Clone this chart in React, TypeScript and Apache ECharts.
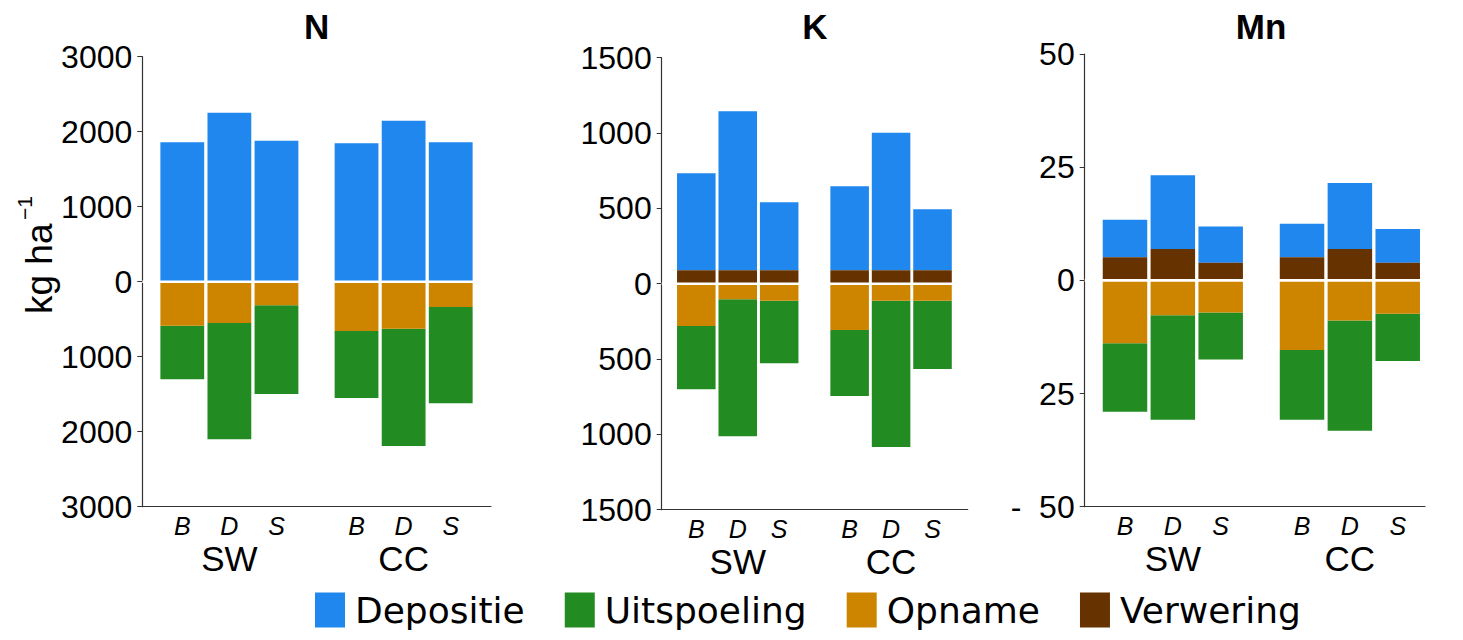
import React, { useEffect, useRef } from 'react';
import * as echarts from 'echarts';

const panelTitles = ['N', 'K', 'Mn'];
const groups = ['SW', 'CC'];
const treatments = ['B', 'D', 'S'];
const xPositions = [1, 2, 3, 4.7, 5.7, 6.7];
const groupCenters = [2, 5.7];
const seriesNames = ['Depositie', 'Uitspoeling', 'Opname', 'Verwering'];
const seriesColors = ['#1F87EE', '#228B22', '#CD8500', '#663300'];

// order: SW-B, SW-D, SW-S, CC-B, CC-D, CC-S
const depositieN = [1859, 2253, 1880, 1845, 2147, 1859];
const verweringN = [0, 0, 0, 0, 0, 0];
const opnameN = [587, 551, 315, 657, 627, 337];
const uitspoelingN = [715, 1550, 1182, 894, 1564, 1284];

const depositieK = [643, 1054, 450, 556, 912, 404];
const verweringK = [90, 90, 90, 90, 90, 90];
const opnameK = [281, 104, 113, 307, 113, 113];
const uitspoelingK = [420, 909, 415, 438, 971, 453];

const depositieMn = [8.3, 16.3, 8.0, 7.4, 14.6, 7.45];
const verweringMn = [5.1, 6.9, 3.9, 5.1, 6.9, 3.9];
const opnameMn = [13.9, 7.7, 7.1, 15.4, 8.85, 7.4];
const uitspoelingMn = [15.15, 23.1, 10.4, 15.4, 24.4, 10.4];

const yLimits = [3000, 1500, 50];
const yIntervals = [1000, 500, 25];

const panelData = [
  { dep: depositieN, ver: verweringN, opn: opnameN, uit: uitspoelingN },
  { dep: depositieK, ver: verweringK, opn: opnameK, uit: uitspoelingK },
  { dep: depositieMn, ver: verweringMn, opn: opnameMn, uit: uitspoelingMn },
];

// layout
const grids = [
  { left: 142.3, width: 348.7, top: 56.7, height: 450 },
  { left: 661.7, width: 306, top: 57.7, height: 452 },
  { left: 1084.7, width: 340.3, top: 54, height: 452.7 },
];
const xRanges = [
  [0.151, 7.555],
  [0.165, 7.549],
  [0.158, 7.27],
];
const titleCenters = [316.6, 814.8, 1261];
const BAR_W = 0.93;

const FONT = "'Liberation Sans', Arial, sans-serif";

function findIndex(arr: number[], v: number) {
  for (let i = 0; i < arr.length; i++) if (Math.abs(arr[i] - v) < 1e-6) return i;
  return -1;
}

const renderBar = (params: any, api: any) => {
  const x = api.value(0);
  const a = api.coord([x, api.value(1)]);
  const b = api.coord([x, api.value(2)]);
  const w = api.size([BAR_W, 0])[0];
  return {
    type: 'rect',
    shape: {
      x: a[0] - w / 2,
      y: Math.min(a[1], b[1]),
      width: w,
      height: Math.abs(a[1] - b[1]),
    },
    style: api.style(),
  };
};

export default function App() {
  const ref = useRef<HTMLDivElement>(null);
  useEffect(() => {
    if (!ref.current) return;
    const chart = echarts.init(ref.current, undefined, { renderer: 'svg' });

    const grid: any[] = [];
    const xAxis: any[] = [];
    const yAxis: any[] = [];
    const series: any[] = [];

    panelData.forEach((pd, p) => {
      grid.push({ ...grids[p], containLabel: false });
      const [xmin, xmax] = xRanges[p];
      xAxis.push({
        type: 'value',
        gridIndex: p,
        min: xmin,
        max: xmax,
        position: 'bottom',
        axisLine: { show: true, onZero: false, lineStyle: { color: '#333', width: 1.2 } },
        axisTick: { show: false },
        splitLine: { show: false },
        axisLabel: {
          customValues: xPositions,
          formatter: (v: number) => {
            const i = findIndex(xPositions, v);
            return i >= 0 ? treatments[i % 3] : '';
          },
          fontSize: 25,
          fontStyle: 'italic',
          fontFamily: FONT,
          color: '#000',
          margin: 7,
        },
      });
      xAxis.push({
        type: 'value',
        gridIndex: p,
        min: xmin,
        max: xmax,
        position: 'bottom',
        axisLine: { show: false, onZero: false },
        axisTick: { show: false },
        splitLine: { show: false },
        axisLabel: {
          customValues: groupCenters,
          formatter: (v: number) => {
            const i = findIndex(groupCenters, v);
            return i >= 0 ? groups[i] : '';
          },
          fontSize: 35,
          fontFamily: FONT,
          color: '#000',
          margin: 34,
        },
      });
      const lim = yLimits[p];
      yAxis.push({
        type: 'value',
        gridIndex: p,
        min: -lim,
        max: lim,
        interval: yIntervals[p],
        axisLine: { show: true, lineStyle: { color: '#333', width: 1.2 } },
        axisTick: { show: true, length: 5, lineStyle: { color: '#333' } },
        splitLine: { show: false },
        axisLabel: {
          fontSize: 32,
          fontFamily: FONT,
          color: '#000',
          margin: 10,
          formatter: (v: number) => {
            if (p === 2 && v === -lim) return '-  ' + Math.abs(v);
            return String(Math.abs(v));
          },
        },
      });

      const depData = xPositions.map((x, i) => [x, pd.ver[i], pd.ver[i] + pd.dep[i]]);
      const verData = xPositions.map((x, i) => [x, 0, pd.ver[i]]);
      const opnData = xPositions.map((x, i) => [x, 0, -pd.opn[i]]);
      const uitData = xPositions.map((x, i) => [x, -pd.opn[i], -pd.opn[i] - pd.uit[i]]);
      const dataByName: Record<string, any[]> = {
        Depositie: depData,
        Uitspoeling: uitData,
        Opname: opnData,
        Verwering: verData,
      };
      seriesNames.forEach((name, k) => {
        series.push({
          type: 'custom',
          name,
          xAxisIndex: 2 * p,
          yAxisIndex: p,
          data: dataByName[name],
          encode: { x: 0, y: [1, 2] },
          itemStyle: { color: seriesColors[k] },
          renderItem: renderBar,
          silent: true,
        });
      });
      series.push({
        type: 'line',
        name: 'zero' + p,
        xAxisIndex: 2 * p,
        yAxisIndex: p,
        data: [
          [xmin, 0],
          [xmax, 0],
        ],
        symbol: 'none',
        lineStyle: { color: '#ffffff', width: 2.6 },
        z: 5,
        silent: true,
      });
    });

    const graphic: any[] = panelTitles.map((t, p) => ({
      type: 'text',
      x: titleCenters[p],
      y: 26.5,
      style: {
        text: t,
        fontSize: 35,
        fontWeight: 'bold',
        fontFamily: FONT,
        fill: '#000',
        align: 'center',
        verticalAlign: 'middle',
      },
    }));
    graphic.push({
      type: 'text',
      x: 39,
      y: 314,
      rotation: Math.PI / 2,
      style: {
        text: 'kg ha',
        fontSize: 37,
        fontFamily: FONT,
        fill: '#000',
        align: 'left',
        verticalAlign: 'middle',
      },
    });
    graphic.push({
      type: 'text',
      x: 24,
      y: 220,
      rotation: Math.PI / 2,
      style: {
        text: '−1',
        fontSize: 21,
        fontFamily: FONT,
        fill: '#000',
        align: 'left',
        verticalAlign: 'middle',
      },
    });

    chart.setOption({
      animation: false,
      grid,
      xAxis,
      yAxis,
      series,
      graphic,
      legend: {
        data: seriesNames,
        left: 315,
        top: 592,
        padding: 0,
        icon: 'rect',
        itemWidth: 30,
        itemHeight: 35,
        itemGap: 40,
        textStyle: {
          fontSize: 36,
          fontFamily: "'DejaVu Sans', Verdana, sans-serif",
          color: '#000',
          padding: [0, 0, 0, 5],
        },
        selectedMode: false,
      },
    });
    return () => chart.dispose();
  }, []);
  return (
    <div
      ref={ref}
      style={{ position: 'absolute', left: 0, top: 0, width: 1463, height: 640 }}
    />
  );
}
